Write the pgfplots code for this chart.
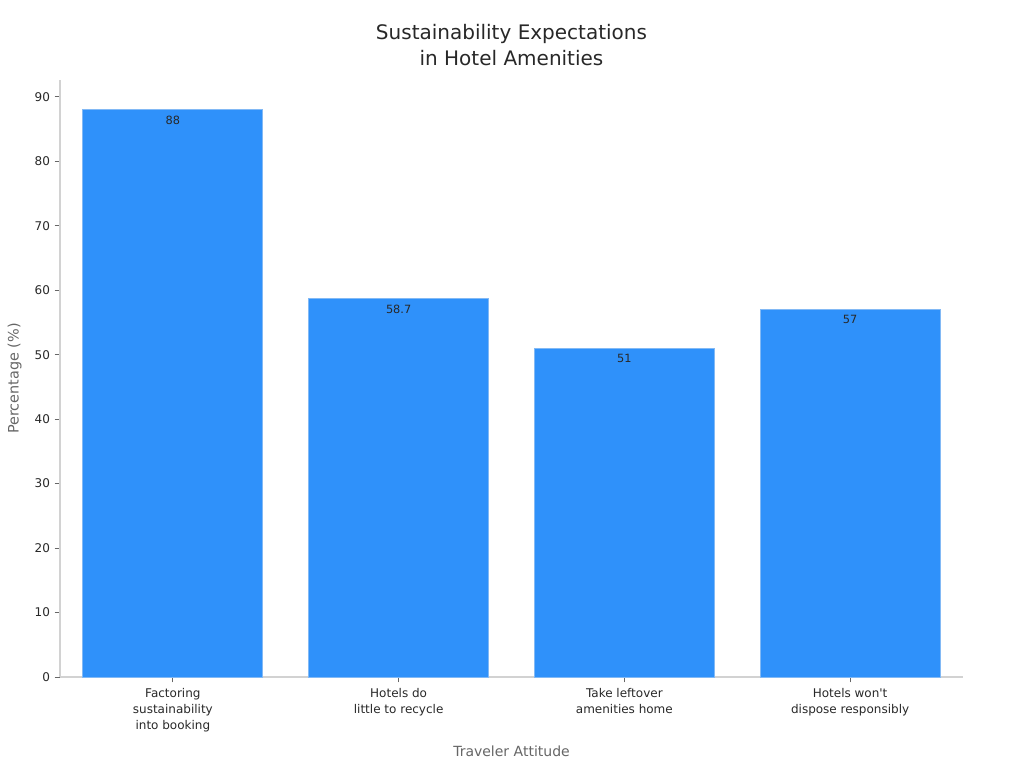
\documentclass[border=0pt]{standalone}
\usepackage{pgfplots}
\pgfplotsset{compat=1.18}
\usepackage{fontspec}
\setmainfont{DejaVu Sans}
\definecolor{barblue}{RGB}{47,145,250}
\definecolor{baredge}{RGB}{130,185,245}
\definecolor{axgray}{RGB}{210,210,210}
\definecolor{txtdark}{RGB}{40,40,40}
\definecolor{labgray}{RGB}{102,102,102}

\begin{document}
\begin{tikzpicture}[x=0.75pt,y=0.75pt]
  % page = 1024 x 768 px, 1px = 0.75pt, axis box lower-left at (60,677) px
  \path[use as bounding box] (-60,-91) rectangle (964,677);
  \begin{axis}[
      at={(0,0)}, anchor=south west,
      scale only axis,
      width=677.25pt, height=447.75pt,
      xmin=-0.5, xmax=3.5,
      ymin=0, ymax=92.6,
      axis lines=left,
      axis line style={draw=axgray, line width=0.8pt, -},
      ytick={0,10,...,90},
      xtick=data,
      xticklabels={{Factoring\\sustainability\\into booking},
                   {Hotels do\\little to recycle},
                   {Take leftover\\amenities home},
                   {Hotels won\textquotesingle t\\dispose responsibly}},
      xticklabel style={align=center, font=\fontsize{9}{12}\selectfont, text=txtdark, yshift=-1pt},
      yticklabel style={font=\fontsize{9}{11}\selectfont, text=txtdark},
      /pgf/number format/assume math mode=true,
      tick align=outside,
      major tick length=4pt,
      tick style={draw=labgray, line width=0.6pt},
      xlabel={Traveler Attitude},
      ylabel={Percentage (\%)},
      xlabel style={font=\fontsize{10.5}{12}\selectfont, text=labgray, at={(axis description cs:0.5,0)}, yshift=-48pt},
      ylabel style={font=\fontsize{10.8}{12}\selectfont, text=labgray, yshift=3pt},
      title={Sustainability Expectations\\in Hotel Amenities},
      title style={align=center, font=\fontsize{15}{19.5}\selectfont, text=txtdark, yshift=1pt},
      enlarge x limits=false,
      clip=false,
    ]
    \addplot[ybar, bar width=135pt, fill=barblue, draw=baredge, line width=0.6pt,
      nodes near coords,
      nodes near coords style={anchor=north, font=\fontsize{8.5}{10}\selectfont, text=txtdark, yshift=-1pt,
        /pgf/number format/assume math mode=true},
      point meta=explicit symbolic]
      table[meta=lab] {
        x y lab
        0 88 88
        1 58.7 58.7
        2 51 51
        3 57 57
      };
  \end{axis}
\end{tikzpicture}
\end{document}
